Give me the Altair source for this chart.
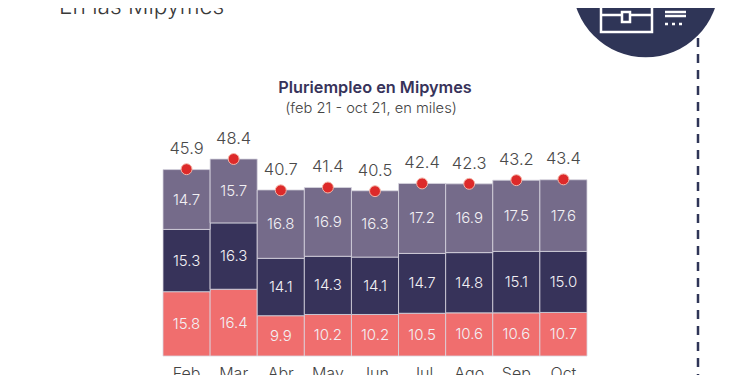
import altair as alt
import pandas as pd

months = ["Feb", "Mar", "Abr", "May", "Jun", "Jul", "Ago", "Sep", "Oct"]
red_vals = [15.8, 16.4, 9.9, 10.2, 10.2, 10.5, 10.6, 10.6, 10.7]
dark_vals = [15.3, 16.3, 14.1, 14.3, 14.1, 14.7, 14.8, 15.1, 15.0]
purple_vals = [14.7, 15.7, 16.8, 16.9, 16.3, 17.2, 16.9, 17.5, 17.6]
totals = [45.9, 48.4, 40.7, 41.4, 40.5, 42.4, 42.3, 43.2, 43.4]
series = ["a", "b", "c"]
colors = ["#f06e6e", "#37335a", "#756b8a"]
FONT = "Inter"
NAVY = "#2f3557"

rows = []
for s, i, vals in zip(series, range(3), [red_vals, dark_vals, purple_vals]):
    for m, v in zip(months, vals):
        rows.append({"month": m, "serie": s, "ord": i, "value": v})
df = pd.DataFrame(rows)
tot = pd.DataFrame({"month": months, "total": totals})

xs = alt.X("month:N", sort=months,
           scale=alt.Scale(domain=months, range=[155, 579], paddingInner=0, paddingOuter=0),
           axis=alt.Axis(title=None, domain=False, ticks=False, labelAngle=0, labelFont=FONT,
                         labelFontSize=16, labelFontWeight=300, labelColor="#444444", labelPadding=9, grid=False))
yscale = alt.Scale(domain=[0, 85.5], range=[348, 0], nice=False, zero=True)
noaxis = alt.Axis(title=None, domain=False, ticks=False, labels=False, grid=False)

stacked = alt.Chart(df).transform_stack(
    stack="value", groupby=["month"], sort=[alt.SortField("ord", order="ascending")], as_=["y0", "y1"]
).transform_calculate(mid="(datum.y0+datum.y1)/2")

bars = stacked.mark_bar(stroke="#d8d6e0", strokeWidth=0.8).encode(
    x=xs,
    y=alt.Y("y0:Q", scale=yscale, axis=noaxis),
    y2="y1:Q",
    color=alt.Color("serie:N", scale=alt.Scale(domain=series, range=colors), legend=None),
)
seg_labels = stacked.mark_text(font=FONT, fontSize=15, fontWeight=300, color="#f2f0f4", baseline="middle").encode(
    x=xs,
    y=alt.Y("mid:Q", scale=yscale, axis=noaxis),
    text=alt.Text("value:Q", format=".1f"),
)
dots = alt.Chart(tot).mark_point(filled=True, size=120, color="#dd2a2a", stroke="#f3b5a8",
                                 strokeWidth=1, opacity=1).encode(
    x=xs, y=alt.Y("total:Q", scale=yscale, axis=noaxis))
tot_labels = alt.Chart(tot).mark_text(font=FONT, fontSize=16.5, fontWeight=300, color="#4a4a4a", dy=-20,
                                      baseline="middle").encode(
    x=xs, y=alt.Y("total:Q", scale=yscale, axis=noaxis),
    text=alt.Text("total:Q", format=".1f"))

one = pd.DataFrame({"k": [1]})


def txt(s, x, y, size, color, weight="normal", align="center"):
    return alt.Chart(one).mark_text(text=s, font=FONT, fontSize=size, color=color, fontWeight=weight,
                                    align=align, baseline="middle").encode(x=alt.value(x), y=alt.value(y))


def box(x, x2, y, y2, stroke="#ffffff", sw=2.5, fill=None):
    kw = {"fill": fill} if fill else {"fillOpacity": 0}
    return alt.Chart(one).mark_rect(stroke=stroke, strokeWidth=sw, **kw).encode(
        x=alt.value(x), x2=alt.value(x2), y=alt.value(y), y2=alt.value(y2))


def rule(x, x2, y, y2, color="#ffffff", sw=2.5, dash=None):
    kw = {"strokeDash": dash} if dash else {}
    return alt.Chart(one).mark_rule(color=color, strokeWidth=sw, **kw).encode(
        x=alt.value(x), x2=alt.value(x2), y=alt.value(y), y2=alt.value(y2))


title1 = txt("Pluriempleo en Mipymes", 367, 80, 16.3, "#37335a", weight=600)
title2 = txt("(feb 21 - oct 21, en miles)", 363, 101, 14.7, "#444444", weight=300)
heading = txt("En las Mipymes", 51, -1, 22.7, "#3a3a3a", weight=300, align="left")

circle = alt.Chart(one).mark_point(filled=True, size=21492, color=NAVY, opacity=1).encode(
    x=alt.value(637.7), y=alt.value(-24))
dashed = rule(690, 690, 30, 367, color=NAVY, sw=2.5, dash=[9, 7])
icon = [
    box(593, 644, -6, 24),
    rule(593, 644, 7, 7),
    box(614, 622, 4, 14, fill=NAVY),
    rule(657, 678, 4, 4),
    rule(657, 678, 8, 8),
    rule(657, 678, 16, 16, dash=[3, 4]),
]

chart = alt.layer(
    dashed, circle, *icon, bars, seg_labels, dots, tot_labels, title1, title2, heading
).properties(
    width=734, height=348,
    padding={"left": 0, "top": 0, "right": 0, "bottom": 30},
    autosize=alt.AutoSizeParams(type="none"),
    background="#ffffff",
).configure_view(stroke=None)

chart.save("out.html", embed_options={"renderer": "svg", "actions": False})
